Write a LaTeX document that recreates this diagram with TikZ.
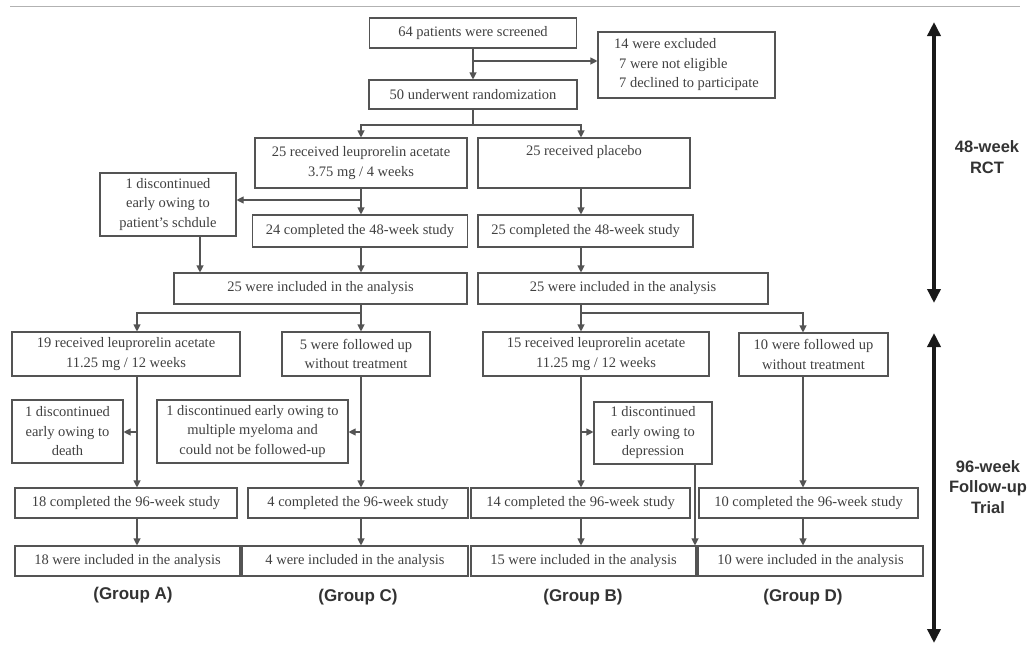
\documentclass[tikz,border=0pt]{standalone}
\usepackage{fontspec}
\setmainfont{Liberation Serif}
\setsansfont{Liberation Sans}
\usetikzlibrary{arrows.meta}
\definecolor{frame}{gray}{0.33}
\definecolor{ink}{gray}{0.25}
\tikzset{
  box/.style={draw=frame, line width=1.1pt, text=ink, align=center, inner sep=2pt,
    font=\fontsize{14.5}{19.5}\selectfont},
  arr/.style={draw=frame, line width=1.1pt, -{Triangle[length=7pt,width=7pt]}},
  link/.style={draw=frame, line width=1.1pt},
  bigarr/.style={draw=black!90, line width=3.6pt,
    {Triangle[length=14pt,width=13pt]}-{Triangle[length=14pt,width=13pt]}},
  phase/.style={font=\sffamily\bfseries\fontsize{16.5}{20.5}\selectfont, align=center, text=black!80},
  grp/.style={font=\sffamily\bfseries\fontsize{17}{20}\selectfont, text=black!80}
}
\begin{document}
\begin{tikzpicture}[x=1pt, y=-1pt]
    \useasboundingbox (0,0) rectangle (1028,648);
    \draw[gray!60, line width=1pt] (10,6) -- (1020,6);

    % columns of the connectors
    \coordinate (colS) at (473,0);
    \coordinate (colL) at (361,0);
    \coordinate (colR) at (581,0);
    \coordinate (colA) at (137,0);
    \coordinate (colD) at (803,0);
    \coordinate (colP) at (200,0);
    \coordinate (colX) at (695,0);

    % 48-week RCT
    \node[box, minimum width=207, minimum height=30] (scr) at (473,33) {64 patients were screened};
    \node[box, minimum width=177, minimum height=66, align=left] (excl) at (686.5,65)
        {14 were excluded\\\hspace{5pt}7 were not eligible\\\hspace{5pt}7 declined to participate};
    \node[box, minimum width=208, minimum height=29] (rand) at (473,94.5) {50 underwent randomization};
    \node[box, minimum width=212, minimum height=50] (leu) at (361,163) {25 received leuprorelin acetate\\3.75 mg / 4 weeks};
    \node[box, minimum width=212, minimum height=50] (plc) at (584,163) {25 received placebo\\\strut};
    \node[box, minimum width=136, minimum height=63] (disc1) at (168,204.5) {1 discontinued\\early owing to\\patient's schdule};
    \node[box, minimum width=215, minimum height=32] (c24) at (360,231) {24 completed the 48-week study};
    \node[box, minimum width=215, minimum height=32] (c25) at (585.5,231) {25 completed the 48-week study};
    \node[box, minimum width=293, minimum height=31] (incL) at (320.5,288.5) {25 were included in the analysis};
    \node[box, minimum width=290, minimum height=31] (incR) at (623,288.5) {25 were included in the analysis};

    % 96-week follow-up trial
    \node[box, minimum width=228, minimum height=44] (r19) at (126,354) {19 received leuprorelin acetate\\11.25 mg / 12 weeks};
    \node[box, minimum width=148, minimum height=44] (f5) at (356,354) {5 were followed up\\without treatment};
    \node[box, minimum width=226, minimum height=44] (r15) at (596,354) {15 received leuprorelin acetate\\11.25 mg / 12 weeks};
    \node[box, minimum width=149, minimum height=43] (f10) at (813.5,354.5) {10 were followed up\\without treatment};
    \node[box, minimum width=111, minimum height=63] (dDeath) at (67.5,431.5) {1 discontinued\\early owing to\\death};
    \node[box, minimum width=191, minimum height=63] (dMyel) at (252.5,431.5) {1 discontinued early owing to\\multiple myeloma and\\could not be followed-up};
    \node[box, minimum width=118, minimum height=62] (dDep) at (653,433) {1 discontinued\\early owing to\\depression};
    \node[box, minimum width=222, minimum height=30] (c18) at (126,503) {18 completed the 96-week study};
    \node[box, minimum width=220, minimum height=30] (c4) at (358,503) {4 completed the 96-week study};
    \node[box, minimum width=219, minimum height=30] (c14) at (580.5,503) {14 completed the 96-week study};
    \node[box, minimum width=219, minimum height=30] (c10) at (808.5,503) {10 completed the 96-week study};
    \node[box, minimum width=225, minimum height=30] (i18) at (127.5,561) {18 were included in the analysis};
    \node[box, minimum width=226, minimum height=30] (i4) at (355,561) {4 were included in the analysis};
    \node[box, minimum width=225, minimum height=30] (i15) at (583.5,561) {15 were included in the analysis};
    \node[box, minimum width=225, minimum height=30] (i10) at (810.5,561) {10 were included in the analysis};

    \node[grp] (gA) at (133,595) {(Group A)};
    \node[grp] (gC) at (358,597) {(Group C)};
    \node[grp] (gB) at (583,597) {(Group B)};
    \node[grp] (gD) at (803,597) {(Group D)};

    % connectors
    \draw[arr] (scr.south -| colS) -- (rand.north -| colS);
    \coordinate (ex) at (473,61);
    \draw[arr] (ex) -- (ex -| excl.west);
    \coordinate (rs) at (473,125);
    \draw[link] (rand.south -| colS) -- (rs);
    \draw[arr] (rs) -| (leu.north -| colL);
    \draw[arr] (rs) -| (plc.north -| colR);
    \draw[arr] (leu.south -| colL) -- (c24.north -| colL);
    \coordinate (d1) at (361,200);
    \draw[arr] (d1) -- (d1 -| disc1.east);
    \draw[arr] (disc1.south -| colP) -- (incL.north -| colP);
    \draw[arr] (c24.south -| colL) -- (incL.north -| colL);
    \draw[arr] (plc.south -| colR) -- (c25.north -| colR);
    \draw[arr] (c25.south -| colR) -- (incR.north -| colR);

    \coordinate (sL) at (361,313);
    \draw[link] (incL.south -| colL) -- (sL);
    \draw[arr] (sL) -| (r19.north -| colA);
    \draw[arr] (sL) -- (f5.north -| colL);
    \coordinate (sR) at (581,313);
    \draw[link] (incR.south -| colR) -- (sR);
    \draw[arr] (sR) -- (r15.north -| colR);
    \draw[arr] (sR) -| (f10.north -| colD);

    \draw[arr] (r19.south -| colA) -- (c18.north -| colA);
    \coordinate (dA) at (137,432);
    \draw[arr] (dA) -- (dA -| dDeath.east);
    \draw[arr] (f5.south -| colL) -- (c4.north -| colL);
    \coordinate (dC) at (361,432);
    \draw[arr] (dC) -- (dC -| dMyel.east);
    \draw[arr] (r15.south -| colR) -- (c14.north -| colR);
    \coordinate (dB) at (581,432);
    \draw[arr] (dB) -- (dB -| dDep.west);
    \draw[arr] (f10.south -| colD) -- (c10.north -| colD);
    \draw[arr] (dDep.south -| colX) -- (i15.north -| colX);

    \draw[arr] (c18.south -| colA) -- (i18.north -| colA);
    \draw[arr] (c4.south -| colL) -- (i4.north -| colL);
    \draw[arr] (c14.south -| colR) -- (i15.north -| colR);
    \draw[arr] (c10.south -| colD) -- (i10.north -| colD);

    % phases
    \coordinate (rctTop) at (934,22);
    \coordinate (rctBot) at (934,303);
    \coordinate (fuTop) at (934,333);
    \coordinate (fuBot) at (934,643);
    \draw[bigarr] (rctTop) -- (rctBot);
    \draw[bigarr] (fuTop) -- (fuBot);
    \node[phase] (rct) at (987,157) {48-week\\RCT};
    \node[phase] (fu) at (988,487) {96-week\\Follow-up\\Trial};
\end{tikzpicture}
\end{document}
